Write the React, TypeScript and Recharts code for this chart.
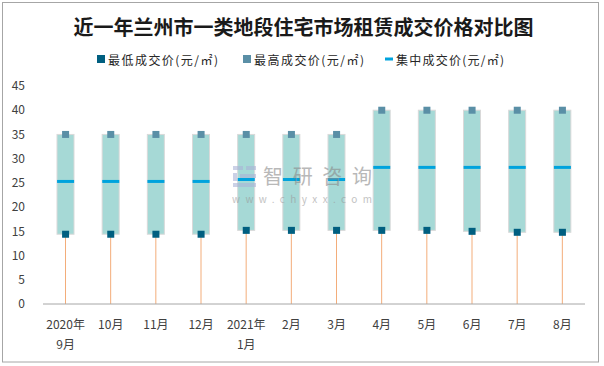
import React from 'react';
import { ComposedChart, Bar, Scatter, XAxis, YAxis } from 'recharts';

const categories = ['2020年9月', '10月', '11月', '12月', '2021年1月', '2月', '3月', '4月', '5月', '6月', '7月', '8月'];
const lowPrice = [14.4, 14.4, 14.4, 14.4, 15.2, 15.2, 15.2, 15.2, 15.2, 15.0, 14.8, 14.8];
const highPrice = [35, 35, 35, 35, 35, 35, 35, 40, 40, 40, 40, 40];
const midPrice = [25.3, 25.3, 25.3, 25.3, 25.7, 25.7, 25.7, 28.2, 28.2, 28.2, 28.2, 28.2];
const yTicks = [0, 5, 10, 15, 20, 25, 30, 35, 40, 45];

const title = '近一年兰州市一类地段住宅市场租赁成交价格对比图';
const legendNames = ['最低成交价(元/㎡)', '最高成交价(元/㎡)', '集中成交价(元/㎡)'];

const C_LOW = '#005f80';
const C_HIGH = '#5a8fa6';
const C_MID = '#00a3dd';
const C_BOX = '#a6d9d6';
const C_BOX_STROKE = '#d9d9d9';
const C_WHISKER = '#f3ad7a';
const FONT = '"Noto Sans CJK SC", "Noto Sans", sans-serif';

const data = categories.map((c, i) => ({
  month: c,
  low: lowPrice[i],
  range: highPrice[i] - lowPrice[i],
  high: highPrice[i],
  mid: midPrice[i],
}));

const WhiskerShape = (props: any) => {
  const { x, y, width, height } = props;
  if (x == null) return null;
  const cx = x + width / 2;
  return <line x1={cx} x2={cx} y1={y} y2={y + height} stroke={C_WHISKER} strokeWidth={1} />;
};

const BoxShape = (props: any) => {
  const { x, y, width, height } = props;
  if (x == null) return null;
  return <rect x={x} y={y} width={width} height={height} fill={C_BOX} stroke={C_BOX_STROKE} strokeWidth={1} />;
};

const squareShape = (color: string) => (props: any) => {
  const { cx, cy } = props;
  if (cx == null) return null;
  return <rect x={cx - 3.5} y={cy - 3.5} width={7} height={7} fill={color} />;
};

const MidShape = (props: any) => {
  const { cx, cy } = props;
  if (cx == null) return null;
  return <rect x={cx - 8.5} y={cy - 1.5} width={17} height={3} fill={C_MID} />;
};

const XTick = (props: any) => {
  const { x, y, payload } = props;
  const v: string = payload.value;
  const idx = v.indexOf('年');
  const lines = idx >= 0 ? [v.slice(0, idx + 1), v.slice(idx + 1)] : [v];
  return (
    <g>
      {lines.map((l, i) => (
        <text key={i} x={x} y={y + 19 + i * 20} textAnchor="middle" dominantBaseline="central"
          fontSize={12} fill="#404040" fontFamily={FONT}>{l}</text>
      ))}
    </g>
  );
};

export default function App() {
  return (
    <div style={{ position: 'absolute', left: 0, top: 0, width: 604, height: 366, background: '#fff' }}>
      <ComposedChart width={604} height={366} data={data}
        margin={{ top: 86, right: 19, bottom: 0, left: 0 }} barCategoryGap={0}>
        <XAxis dataKey="month" height={62} interval={0} tickLine={false} tickSize={0} tickMargin={0}
          axisLine={{ stroke: '#a6a6a6' }} tick={<XTick />} />
        <YAxis domain={[0, 45]} ticks={yTicks} width={43} axisLine={false} tickLine={false}
          tickSize={0} tickMargin={18} interval={0}
          tick={{ fontSize: 12, fill: '#404040', fontFamily: FONT }} />
        <Bar dataKey="low" stackId="a" barSize={17} fill="none" shape={<WhiskerShape />} isAnimationActive={false} />
        <Bar dataKey="range" stackId="a" barSize={17} fill={C_BOX} shape={<BoxShape />} isAnimationActive={false} />
        <Scatter dataKey="mid" shape={<MidShape />} isAnimationActive={false} />
        <Scatter dataKey="high" shape={squareShape(C_HIGH)} isAnimationActive={false} />
        <Scatter dataKey="low" shape={squareShape(C_LOW)} isAnimationActive={false} />
      </ComposedChart>
      <svg width={604} height={366} style={{ position: 'absolute', left: 0, top: 0, pointerEvents: 'none' }}>
        <rect x={2.5} y={2.5} width={596} height={359.5} fill="none" stroke="#a6a6a6" strokeWidth={1} />
        <text x={303.5} y={26} textAnchor="middle" dominantBaseline="central" fontSize={20} fontWeight="bold"
          fill="#1a1a1a" fontFamily={FONT}>{title}</text>
        <rect x={97} y={55} width={8} height={8} fill={C_LOW} />
        <text x={108} y={59} dominantBaseline="central" fontSize={12} fill="#262626" fontFamily={FONT}
          textLength={110} lengthAdjust="spacing">{legendNames[0]}</text>
        <rect x={243} y={55} width={8} height={8} fill={C_HIGH} />
        <text x={254} y={59} dominantBaseline="central" fontSize={12} fill="#262626" fontFamily={FONT}
          textLength={110} lengthAdjust="spacing">{legendNames[1]}</text>
        <rect x={385} y={57.5} width={8} height={3} fill={C_MID} />
        <text x={396} y={59} dominantBaseline="central" fontSize={12} fill="#262626" fontFamily={FONT}
          textLength={108} lengthAdjust="spacing">{legendNames[2]}</text>
        <g opacity={0.6}>
          <rect x={233} y={166} width={10} height={4} fill="#aab3d6" />
          <rect x={246} y={166} width={10} height={4} fill="#aab3d6" />
          <rect x={233} y={173} width={4} height={8} fill="#aab3d6" />
          <rect x={240} y={174} width={16} height={4} fill="#aab3d6" />
          <rect x={233} y={183} width={23} height={4} fill="#aab3d6" />
          <text x={263} y={175.5} dominantBaseline="central" fontSize={20} fill="#8a8a8a" fontFamily={FONT}
            textLength={109} lengthAdjust="spacing">智研咨询</text>
          <text x={232} y={198} dominantBaseline="central" fontSize={10} fill="#9a9a9a" fontFamily={FONT}
            textLength={140} lengthAdjust="spacing">www.chyxx.com</text>
        </g>
      </svg>
    </div>
  );
}
